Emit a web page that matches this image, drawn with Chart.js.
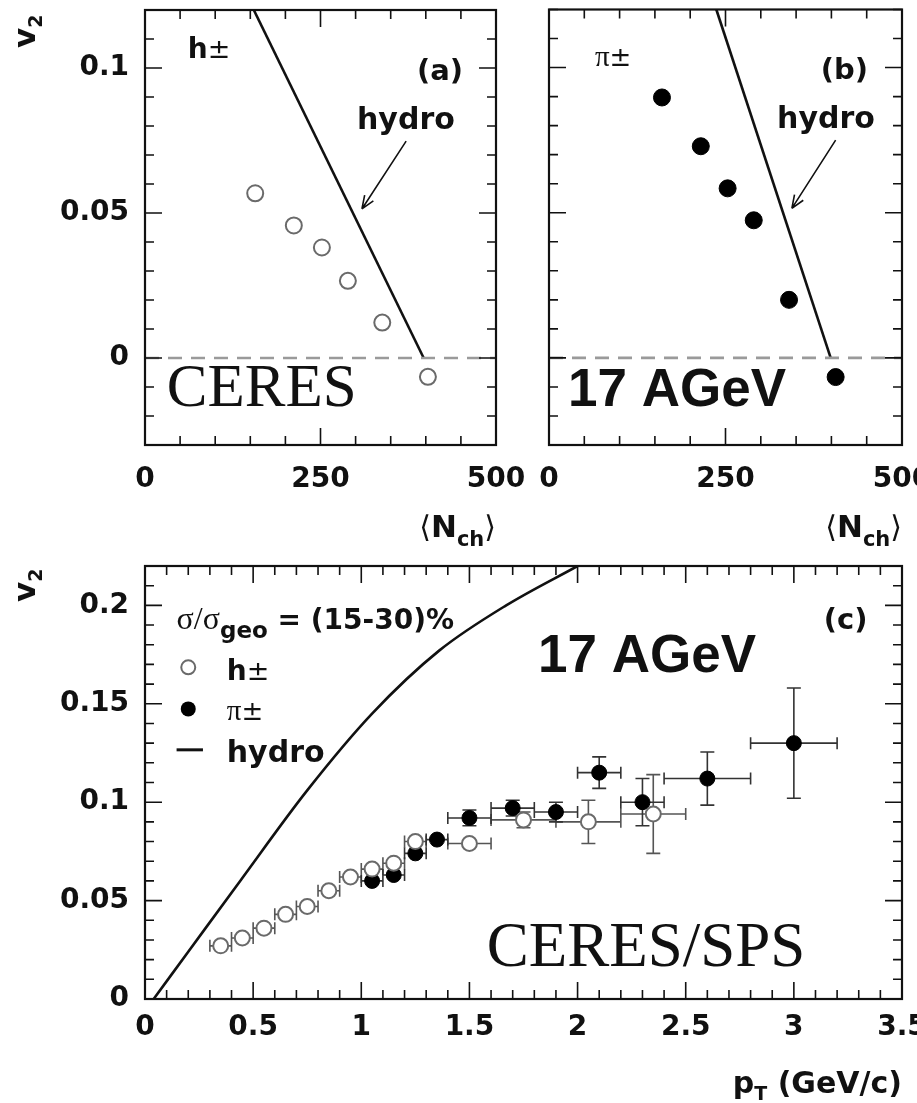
<!DOCTYPE html>
<html>
<head>
<meta charset="utf-8">
<script src="https://cdn.jsdelivr.net/npm/chart.js@4.4.1/dist/chart.umd.min.js"></script>
<style>
body{margin:0;background:#fff;width:917px;height:1103px;position:relative;overflow:hidden}
canvas{position:absolute}
</style>
</head>
<body>
<canvas id="chartA" width="530" height="555" style="left:0;top:0"></canvas>
<canvas id="chartB" width="397" height="555" style="left:520px;top:0"></canvas>
<canvas id="chartC" width="917" height="548" style="left:0;top:555px"></canvas>
<script>
// ---- DATA ----
// (a) h+- v2 vs <Nch>
const nchA=[157,212,252,289,338,403];
const v2A=[0.0568,0.0457,0.0381,0.0266,0.0122,-0.0065];
const hydroNchA=[155,397];
const hydroV2A=[0.12,0];
// (b) pi+- v2 vs <Nch>
const nchB=[160,215,253,290,340,406];
const v2B=[0.0897,0.0729,0.0584,0.0474,0.0200,-0.0066];
const hydroNchB=[237,399];
const hydroV2B=[0.12,0];
const zeroNch=[0,500];
const zeroV2=[0,0];
// (c) v2 vs pT
const ptH=[0.35,0.45,0.55,0.65,0.75,0.85,0.95,1.05,1.15,1.25,1.5,1.75,2.05,2.35];
const v2H=[0.027,0.031,0.036,0.043,0.047,0.055,0.062,0.066,0.069,0.080,0.079,0.091,0.090,0.094];
const ptErrH=[0.05,0.05,0.05,0.05,0.05,0.05,0.05,0.05,0.05,0.05,0.1,0.15,0.15,0.15];
const v2ErrH=[0.002,0.002,0.002,0.002,0.002,0.002,0.002,0.002,0.002,0.003,0.003,0.004,0.011,0.02];
const ptPi=[1.05,1.15,1.25,1.35,1.5,1.7,1.9,2.1,2.3,2.6,3.0];
const v2Pi=[0.060,0.063,0.074,0.081,0.092,0.097,0.095,0.115,0.100,0.112,0.130];
const ptErrPi=[0.05,0.05,0.05,0.05,0.1,0.1,0.1,0.1,0.1,0.2,0.2];
const v2ErrPi=[0.003,0.003,0.003,0.003,0.004,0.004,0.005,0.008,0.012,0.0135,0.028];
const hydroPt=[0.04,0.2,0.44,0.75,1.05,1.36,1.67,2.0];
const hydroV2=[0,0.024,0.060,0.106,0.145,0.177,0.2,0.22];
// ticks
const nchTicks=[0,250,500];
const nchLabels=["0","250","500"];
const v2TicksTop=[0,0.05,0.1];
const v2LabelsTop=["0","0.05","0.1"];
const ptTicks=[0,0.5,1,1.5,2,2.5,3,3.5];
const ptLabels=["0","0.5","1","1.5","2","2.5","3","3.5"];
const v2TicksC=[0,0.05,0.1,0.15,0.2];
const v2LabelsC=["0","0.05","0.1","0.15","0.2"];

const el=id=>document.getElementById(id);
const SANS="'DejaVu Sans', sans-serif";
const SERIF="'Liberation Serif', serif";
const ARIAL="'Liberation Sans', sans-serif";
const fnt=(w,s,fam)=>`${w} ${s}px ${fam||SANS}`;
const INK="#111";

const pts=(xs,ys)=>xs.map((v,i)=>({x:v,y:ys[i]}));

// write a run of text pieces (for sub-scripts)
function put(ctx,x,y,parts,align){
let w=0;
parts.forEach(p=>{ctx.font=p.f;w+=ctx.measureText(p.t).width;});
let cx=align==="right"?x-w:x;
ctx.textAlign="left";ctx.textBaseline="alphabetic";
parts.forEach(p=>{ctx.font=p.f;ctx.fillText(p.t,cx,y+(p.dy||0));cx+=ctx.measureText(p.t).width;});
}

// text at data coords
function putAt(chart,xv,yv,parts,align){
const {ctx,scales:{x,y}}=chart;
ctx.save();ctx.fillStyle=INK;
put(ctx,x.getPixelForValue(xv),y.getPixelForValue(yv),parts,align);
ctx.restore();
}

// frame with inward ticks on all four sides
function frame(chart,xMinor,xMajor,yMinor,yMajor){
const {ctx,chartArea:a,scales:{x,y}}=chart;
ctx.save();
ctx.strokeStyle=INK;ctx.lineWidth=1.6;
ctx.beginPath();
let n=Math.round((x.max-x.min)/xMinor);
for(let i=0;i<=n;i++){
const v=x.min+i*xMinor;
const maj=Math.abs(v/xMajor-Math.round(v/xMajor))<1e-6;
const L=maj?17:9,px=x.getPixelForValue(v);
ctx.moveTo(px,a.bottom);ctx.lineTo(px,a.bottom-L);
ctx.moveTo(px,a.top);ctx.lineTo(px,a.top+L);
}
n=Math.round((y.max-y.min)/yMinor);
for(let i=0;i<=n;i++){
const v=y.min+i*yMinor;
const maj=Math.abs(v/yMajor-Math.round(v/yMajor))<1e-6;
const L=maj?17:9,py=y.getPixelForValue(v);
ctx.moveTo(a.left,py);ctx.lineTo(a.left+L,py);
ctx.moveTo(a.right,py);ctx.lineTo(a.right-L,py);
}
ctx.stroke();
ctx.lineWidth=2.2;
ctx.strokeRect(a.left,a.top,a.width,a.height);
ctx.restore();
}

function errBars(chart,xs,ys,ex,ey,color){
const {ctx,scales:{x,y}}=chart;
ctx.save();ctx.strokeStyle=color;ctx.lineWidth=1.6;
ctx.beginPath();
xs.forEach((xv,i)=>{
const px=x.getPixelForValue(xv),py=y.getPixelForValue(ys[i]);
const x0=x.getPixelForValue(xv-ex[i]),x1=x.getPixelForValue(xv+ex[i]);
const y0=y.getPixelForValue(ys[i]-ey[i]),y1=y.getPixelForValue(ys[i]+ey[i]);
ctx.moveTo(x0,py);ctx.lineTo(x1,py);
ctx.moveTo(x0,py-6);ctx.lineTo(x0,py+6);
ctx.moveTo(x1,py-6);ctx.lineTo(x1,py+6);
if(y0-py>6){
ctx.moveTo(px,y0);ctx.lineTo(px,y1);
ctx.moveTo(px-7,y0);ctx.lineTo(px+7,y0);
ctx.moveTo(px-7,y1);ctx.lineTo(px+7,y1);
}
});
ctx.stroke();ctx.restore();
}

function arrow(chart,from,to){
const {ctx,scales:{x,y}}=chart;
const x0=x.getPixelForValue(from[0]),y0=y.getPixelForValue(from[1]);
const x1=x.getPixelForValue(to[0]),y1=y.getPixelForValue(to[1]);
const ang=Math.atan2(y1-y0,x1-x0);
ctx.save();ctx.strokeStyle=INK;ctx.lineWidth=1.6;
ctx.beginPath();ctx.moveTo(x0,y0);ctx.lineTo(x1,y1);
[-1,1].forEach(s=>{ctx.moveTo(x1,y1);ctx.lineTo(x1-14*Math.cos(ang+s*0.38),y1-14*Math.sin(ang+s*0.38));});
ctx.stroke();ctx.restore();
}

function v2Title(ctx,x,y){
ctx.save();ctx.fillStyle=INK;ctx.translate(x,y);ctx.rotate(-Math.PI/2);
put(ctx,0,0,[{t:"v",f:fnt("bold",31)},{t:"2",f:fnt("bold",19),dy:7}]);
ctx.restore();
}

function nchTitle(ctx,xr,yb){
ctx.save();ctx.fillStyle=INK;
put(ctx,xr,yb,[{t:"\u27E8",f:fnt("normal",30)},{t:"N",f:fnt("bold",31)},{t:"ch",f:fnt("bold",21),dy:9},{t:"\u27E9",f:fnt("normal",30)}],"right");
ctx.restore();
}

function axisX(min,max,ticks,labels,h,pad){
return {type:"linear",min,max,
grid:{display:false,drawTicks:false},border:{display:false},
afterBuildTicks:s=>{s.ticks=ticks.map(v=>({value:v}));},
ticks:{color:INK,font:{family:SANS,weight:"bold",size:28},padding:pad,maxRotation:0,autoSkip:false,
callback:(v,i)=>labels[i]},
afterFit:s=>{s.height=h;s.paddingLeft=0;s.paddingRight=0;}};
}
function axisY(min,max,ticks,labels,show){
return {type:"linear",min,max,display:show,
grid:{display:false,drawTicks:false},border:{display:false},
afterBuildTicks:s=>{s.ticks=ticks.map(v=>({value:v}));},
ticks:{color:INK,font:{family:SANS,weight:"bold",size:28},padding:16,
callback:(v,i)=>labels[i]},
afterFit:s=>{s.width=show?145:0;s.paddingTop=0;s.paddingBottom=0;}};
}

const lineDs=(data,extra)=>Object.assign({data,showLine:true,pointRadius:0,borderColor:INK,borderWidth:2.6,fill:false,tension:0},extra);
const openDs=(data,r)=>({data,pointRadius:r,pointBackgroundColor:"#fff",pointBorderColor:"#6a6a6a",pointBorderWidth:2,showLine:false});
const fullDs=(data,r)=>({data,pointRadius:r,pointBackgroundColor:"#000",pointBorderColor:"#000",pointBorderWidth:1,showLine:false});
const zeroDs=()=>lineDs(pts(zeroNch,zeroV2),{borderColor:"#9a9a9a",borderWidth:2.6,borderDash:[14,9]});

const base={responsive:false,animation:false,
plugins:{legend:{display:false},tooltip:{enabled:false}}};

// PANEL (a)
new Chart(el("chartA"),{
type:"scatter",
data:{datasets:[zeroDs(),lineDs(pts(hydroNchA,hydroV2A)),openDs(pts(nchA,v2A),8)]},
options:Object.assign({},base,{
layout:{padding:{top:8,right:34,left:0,bottom:0}},
scales:{x:axisX(0,500,nchTicks,nchLabels,110,18),y:axisY(-0.03,0.12,v2TicksTop,v2LabelsTop,true)}}),
plugins:[{id:"decoA",afterDatasetsDraw(c){
const {ctx,chartArea:a}=c;
frame(c,50,250,0.01,0.05);
putAt(c,61,0.1035,[{t:"h",f:fnt("bold",28)},{t:"\u00B1",f:fnt("normal",27)}]);
putAt(c,453,0.096,[{t:"(a)",f:fnt("bold",29)}],"right");
putAt(c,302,0.0791,[{t:"hydro",f:fnt("bold",30)}]);
arrow(c,[372,0.0748],[309,0.0514]);
putAt(c,31,-0.0165,[{t:"CERES",f:fnt("normal",61,SERIF)}]);
v2Title(ctx,a.left-110,a.top+38);
nchTitle(ctx,a.right,a.bottom+92);
}}]
});

// PANEL (b)
new Chart(el("chartB"),{
type:"scatter",
data:{datasets:[zeroDs(),lineDs(pts(hydroNchB,hydroV2B)),fullDs(pts(nchB,v2B),8.5)]},
options:Object.assign({},base,{
layout:{padding:{top:8,right:15,left:29,bottom:0}},
scales:{x:axisX(0,500,nchTicks,nchLabels,110,18),y:axisY(-0.03,0.12,v2TicksTop,v2LabelsTop,false)}}),
plugins:[{id:"decoB",afterDatasetsDraw(c){
const {ctx,chartArea:a}=c;
frame(c,50,250,0.01,0.05);
putAt(c,65,0.1005,[{t:"\u03C0",f:fnt("normal",29,SERIF)},{t:"\u00B1",f:fnt("normal",26)}]);
putAt(c,452,0.096,[{t:"(b)",f:fnt("bold",29)}],"right");
putAt(c,323,0.0791,[{t:"hydro",f:fnt("bold",30)}]);
arrow(c,[406,0.075],[344,0.0515]);
putAt(c,27,-0.0165,[{t:"17 AGeV",f:fnt("bold",53,ARIAL)}]);
nchTitle(ctx,a.right,a.bottom+92);
}}]
});

// PANEL (c)
new Chart(el("chartC"),{
type:"scatter",
data:{datasets:[lineDs(pts(hydroPt,hydroV2),{tension:0.35,cubicInterpolationMode:"monotone"}),openDs(pts(ptH,v2H),7.5),fullDs(pts(ptPi,v2Pi),7.5)]},
options:Object.assign({},base,{
layout:{padding:{top:11,right:15,left:0,bottom:0}},
scales:{x:axisX(0,3.5,ptTicks,ptLabels,104,12),y:axisY(0,0.22,v2TicksC,v2LabelsC,true)}}),
plugins:[{id:"barsC",beforeDatasetsDraw(c){
errBars(c,ptH,v2H,ptErrH,v2ErrH,"#555");
errBars(c,ptPi,v2Pi,ptErrPi,v2ErrPi,"#333");
},afterDatasetsDraw(c){
const {ctx,chartArea:a,scales:{x,y}}=c;
frame(c,0.1,0.5,0.01,0.05);
// legend block
putAt(c,0.146,0.188,[{t:"\u03C3/\u03C3",f:fnt("normal",32,SERIF)},{t:"geo",f:fnt("bold",23),dy:9},{t:" = (15-30)%",f:fnt("bold",28)}]);
ctx.save();
ctx.beginPath();ctx.arc(x.getPixelForValue(0.2),y.getPixelForValue(0.1685),7,0,Math.PI*2);
ctx.fillStyle="#fff";ctx.fill();ctx.strokeStyle="#6a6a6a";ctx.lineWidth=2;ctx.stroke();
ctx.beginPath();ctx.arc(x.getPixelForValue(0.2),y.getPixelForValue(0.1474),7.5,0,Math.PI*2);
ctx.fillStyle="#000";ctx.fill();
ctx.beginPath();ctx.moveTo(x.getPixelForValue(0.146),y.getPixelForValue(0.1266));
ctx.lineTo(x.getPixelForValue(0.268),y.getPixelForValue(0.1266));
ctx.strokeStyle=INK;ctx.lineWidth=3;ctx.stroke();
ctx.restore();
putAt(c,0.378,0.162,[{t:"h",f:fnt("bold",28)},{t:"\u00B1",f:fnt("normal",27)}]);
putAt(c,0.378,0.142,[{t:"\u03C0",f:fnt("normal",29,SERIF)},{t:"\u00B1",f:fnt("normal",26)}]);
putAt(c,0.378,0.1206,[{t:"hydro",f:fnt("bold",30)}]);
putAt(c,3.34,0.188,[{t:"(c)",f:fnt("bold",29)}],"right");
putAt(c,1.817,0.166,[{t:"17 AGeV",f:fnt("bold",53,ARIAL)}]);
putAt(c,1.58,0.017,[{t:"CERES/SPS",f:fnt("normal",63,SERIF)}]);
v2Title(ctx,a.left-110,a.top+36);
ctx.save();ctx.fillStyle=INK;
put(ctx,a.right,a.bottom+94,[{t:"p",f:fnt("bold",30)},{t:"T",f:fnt("bold",19),dy:7},{t:" (GeV/c)",f:fnt("bold",30)}],"right");
ctx.restore();
}}]
});
</script>
</body>
</html>
